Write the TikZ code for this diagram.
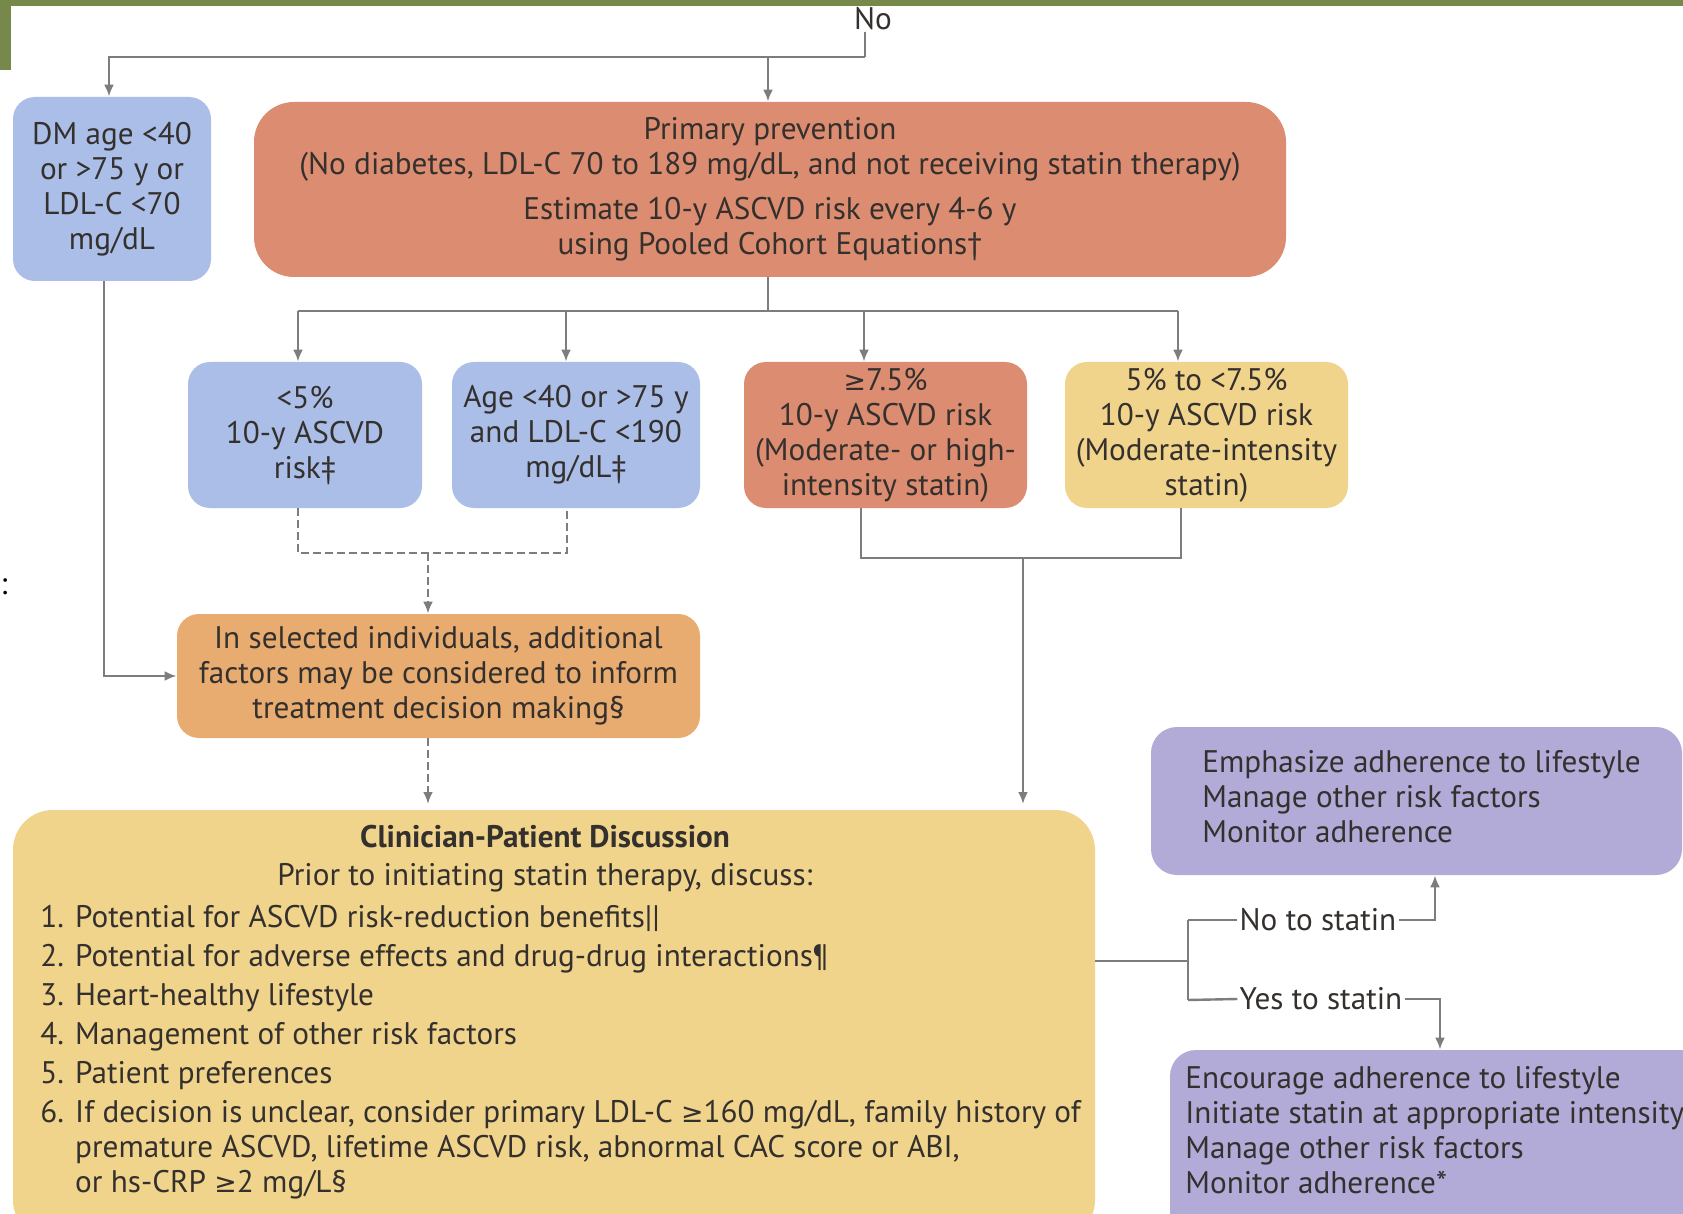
\documentclass[tikz,border=0pt]{standalone}
\usepackage{fontspec}
\setmainfont{PT Sans}
\newfontfamily\symf{DejaVu Sans}
\usetikzlibrary{arrows.meta,calc}
\definecolor{grn}{RGB}{118,136,74}
\definecolor{bluebx}{RGB}{170,190,232}
\definecolor{salmon}{RGB}{220,140,112}
\definecolor{yelbx}{RGB}{241,212,140}
\definecolor{orgbx}{RGB}{232,172,112}
\definecolor{discbx}{RGB}{240,212,140}
\definecolor{purp}{RGB}{178,170,215}
\definecolor{lc}{RGB}{125,125,125}
\definecolor{txt}{RGB}{52,48,46}
\newcommand\GE{{\symf\fontsize{13.4}{13.4}\selectfont ≥}}
\tikzset{
  box/.style={rounded corners=11pt, inner sep=0pt, align=center, text=txt},
  conn/.style={draw=lc, line width=1.2pt},
  arr/.style={conn, -{Latex[length=6pt,width=5pt]}},
  dsh/.style={conn, dash pattern=on 4pt off 2pt},
  lab/.style={inner sep=1pt, text=txt},
}
\begin{document}
\begin{tikzpicture}[x=0.5pt,y=-0.5pt,font=\fontsize{15.6}{17.5}\selectfont]
\useasboundingbox (0,0) rectangle (1683,1214);
\clip (0,0) rectangle (1683,1214);
\fill[white] (0,0) rectangle (1683,1214);
\fill[grn] (0,0) rectangle (1683,6);
\fill[grn] (0,0) rectangle (11,70);
\node[text=black, inner sep=0pt] (colon) at (4,587) {:};

% boxes
\node[box, fill=bluebx, minimum width=99pt, minimum height=92pt] (dm) at (112,189)
  {DM age <40\\or >75 y or\\LDL-C <70\\mg/dL};
\node[box, fill=salmon, rounded corners=20pt, minimum width=516pt, minimum height=87.5pt] (prim) at (770,189.5)
  {Primary prevention\\(No diabetes, LDL-C 70 to 189 mg/dL, and not receiving statin therapy)\\[5pt]
   Estimate 10-y ASCVD risk every 4-6 y\\using Pooled Cohort Equations†};
\node[box, fill=bluebx, minimum width=117pt, minimum height=73pt] (r1) at (305,435)
  {<5\%\\10-y ASCVD\\risk‡};
\node[box, fill=bluebx, minimum width=124pt, minimum height=73pt] (r2) at (576,435)
  {Age <40 or >75 y\\and LDL-C <190\\mg/dL‡};
\node[box, fill=salmon, minimum width=141.5pt, minimum height=73pt] (r3) at (885.5,435)
  {\GE7.5\%\\10-y ASCVD risk\\(Moderate- or high-\\intensity statin)};
\node[box, fill=yelbx, minimum width=141.5pt, minimum height=73pt] (r4) at (1206.5,435)
  {5\% to <7.5\%\\10-y ASCVD risk\\(Moderate-intensity\\statin)};
\node[box, fill=orgbx, minimum width=261.5pt, minimum height=62pt] (sel) at (438.5,676)
  {In selected individuals, additional\\factors may be considered to inform\\treatment decision making§};
\node[box, fill=discbx, rounded corners=20pt, minimum width=541pt, minimum height=215pt] (disc) at (554,1025) {};
\node[box, fill=purp, rounded corners=13pt, minimum width=265.5pt, minimum height=74pt] (p1) at (1416.5,801) {};
\node[box, fill=purp, rounded corners=13pt, minimum width=270pt, minimum height=100pt] (p2) at (1440,1150) {};

% texts in large boxes
\node[lab, font=\fontsize{15.6}{17.5}\selectfont\bfseries] (dtitle) at (545,837) {Clinician-Patient Discussion};
\node[lab] (dprior) at (545,878) {Prior to initiating statin therapy, discuss:};
\node[lab, align=left, anchor=north west] (dlist) at (38,903)
  {1. Potential for ASCVD risk-reduction benefits||\\[2pt]
   2. Potential for adverse effects and drug-drug interactions¶\\[2pt]
   3. Heart-healthy lifestyle\\[2pt]
   4. Management of other risk factors\\[2pt]
   5. Patient preferences\\[2pt]
   6. If decision is unclear, consider primary LDL-C \GE160 mg/dL, family history of\\
   \hphantom{6. }premature ASCVD, lifetime ASCVD risk, abnormal CAC score or ABI,\\
   \hphantom{6. }or hs-CRP \GE2 mg/L§};
\node[lab, align=left, anchor=north west] (p1t) at (1200,748)
  {Emphasize adherence to lifestyle\\Manage other risk factors\\Monitor adherence};
\node[lab, align=left, anchor=north west] (p2t) at (1183,1064)
  {Encourage adherence to lifestyle\\Initiate statin at appropriate intensity\\Manage other risk factors\\Monitor adherence*};

% connectors
\node[lab, inner sep=0pt] (no) at (873,19) {No};
\coordinate (j0) at (865,57);
\draw[conn] (865,32) -- (j0);
\draw[arr] (j0) -| (109,0 |- dm.north);
\draw[arr] (768,0 |- j0) -- (768,0 |- prim.north);

\coordinate (j1) at (768,311);
\draw[conn] (768,0 |- prim.south) -- (j1);
\draw[conn] (298,311) -- (1178,311);
\draw[arr] (298,311) -- (298,0 |- r1.north);
\draw[arr] (566,311) -- (566,0 |- r2.north);
\draw[arr] (864,311) -- (864,0 |- r3.north);
\draw[arr] (1178,311) -- (1178,0 |- r4.north);

\coordinate (j2) at (428,553);
\draw[dsh] (298,0 |- r1.south) -- (298,553) -- (567,553) -- (567,0 |- r2.south);
\draw[dsh, -{Latex[length=6pt,width=5pt]}] (j2) -- (428,0 |- sel.north);
\draw[arr] (104,0 |- dm.south) |- (sel.west);
\draw[dsh, -{Latex[length=6pt,width=5pt]}] (428,0 |- sel.south) -- (428,804);

\coordinate (j3) at (1023,558);
\draw[conn] (861,0 |- r3.south) -- (861,558) -- (1181,558) -- (1181,0 |- r4.south);
\draw[arr] (j3) -- (1023,804);

\coordinate (j4) at (1188,961);
\draw[conn] (disc.east |- j4) -- (j4);
\draw[conn] (1188,920) -- (1188,1000);
\node[lab] (nolab) at (1318,920) {No to statin};
\node[lab] (yeslab) at (1321,999) {Yes to statin};
\draw[conn] (1188,920) -- (nolab.west);
\draw[arr] (nolab.east) -| (1435,0 |- p1.south);
\draw[conn] (1188,1000) -- (yeslab.west);
\draw[arr] (yeslab.east) -| (1440,0 |- p2.north);
\end{tikzpicture}
\end{document}
